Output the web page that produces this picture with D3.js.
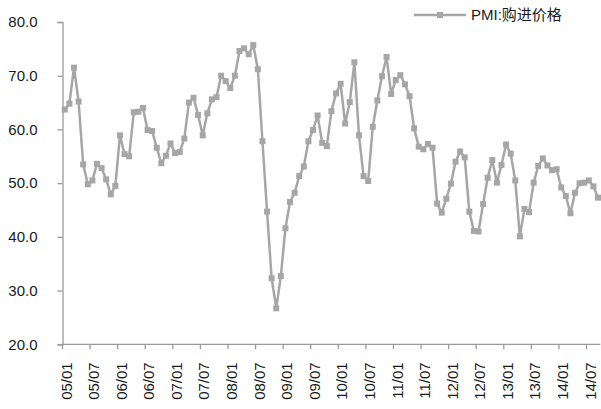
<!DOCTYPE html>
<html>
<head>
<meta charset="utf-8">
<script src="https://cdn.jsdelivr.net/npm/d3@7"></script>
<style>
  body { margin: 0; background: #fff; }
  text { font-family: "Liberation Sans", "Noto Sans CJK SC", sans-serif; fill: #1a1a1a; }
</style>
</head>
<body>
<svg id="chart"></svg>
<script>
// PMI purchase price index, monthly, by year
var years = ["05", "06", "07", "08", "09", "10", "11", "12", "13", "14"];
var v2005 = [63.7, 64.8, 71.5, 65.2, 53.5, 49.8, 50.5, 53.6, 52.8, 50.7, 47.9, 49.5];
var v2006 = [58.9, 55.4, 55.0, 63.2, 63.3, 64.0, 59.9, 59.7, 56.6, 53.7, 55.1, 57.4];
var v2007 = [55.6, 55.8, 58.3, 65.0, 65.9, 62.7, 58.9, 63.0, 65.6, 66.0, 70.0, 69.0];
var v2008 = [67.7, 70.0, 74.6, 75.1, 74.0, 75.7, 71.2, 57.8, 44.7, 32.3, 26.7, 32.7];
var v2009 = [41.6, 46.5, 48.2, 51.3, 53.1, 57.8, 59.9, 62.6, 57.5, 56.9, 63.4, 66.7];
var v2010 = [68.5, 61.1, 65.1, 72.5, 58.9, 51.3, 50.4, 60.5, 65.4, 69.9, 73.5, 66.6];
var v2011 = [69.2, 70.1, 68.4, 66.2, 60.2, 56.8, 56.3, 57.3, 56.6, 46.2, 44.5, 47.1];
var v2012 = [49.9, 54.0, 55.9, 54.8, 44.7, 41.1, 41.0, 46.1, 51.0, 54.3, 50.1, 53.4];
var v2013 = [57.2, 55.5, 50.5, 40.1, 45.2, 44.6, 50.1, 53.2, 54.6, 53.3, 52.4, 52.6];
var v2014 = [49.2, 47.6, 44.4, 48.2, 50.0, 50.1, 50.5, 49.4, 47.3];
var byYear = [v2005, v2006, v2007, v2008, v2009, v2010, v2011, v2012, v2013, v2014];

var tickLabels = ["05/01", "05/07", "06/01", "06/07", "07/01", "07/07", "08/01", "08/07",
  "09/01", "09/07", "10/01", "10/07", "11/01", "11/07", "12/01", "12/07",
  "13/01", "13/07", "14/01", "14/07"];
var yTicks = [20, 30, 40, 50, 60, 70, 80];
var seriesName = "PMI:购进价格";

var width = 601, height = 409;
var mLeft = 62.5, mRight = 600.3, mTop = 22, mBottom = 344.3;

// flatten to one row per month
var data = [];
byYear.forEach(function(vals, yi) {
  vals.forEach(function(v, m) {
    var mm = (m + 1 < 10 ? "0" : "") + (m + 1);
    data.push({ label: years[yi] + "/" + mm, value: v });
  });
});

var svg = d3.select("#chart").attr("width", width).attr("height", height);

var x = d3.scaleBand().domain(data.map(function(d) { return d.label; }))
  .range([mLeft, mRight]).padding(0);
var y = d3.scaleLinear().domain([20, 80]).range([mBottom, mTop]);

var axisColor = "#9a9a9a";
var lineColor = "#a6a6a6";

// y axis
var yAxis = svg.append("g").attr("transform", "translate(" + mLeft + ",0)")
  .call(d3.axisLeft(y).tickValues(yTicks).tickSize(5).tickPadding(20)
    .tickFormat(function(d) { return d3.format(".1f")(d); }));
yAxis.select(".domain").attr("stroke", axisColor).attr("stroke-width", 1.3);
yAxis.selectAll(".tick line").attr("stroke", axisColor).attr("stroke-width", 1.3);
yAxis.selectAll("text").attr("font-size", 15).attr("fill", "#1a1a1a")
  .style("font-family", "'Liberation Sans', sans-serif");

// x axis: ticks at start of each half-year category
var xg = svg.append("g");
xg.append("line").attr("x1", mLeft).attr("x2", mRight)
  .attr("y1", mBottom).attr("y2", mBottom)
  .attr("stroke", axisColor).attr("stroke-width", 1.3);
var tickData = data.filter(function(d) { return tickLabels.indexOf(d.label) !== -1; });
xg.selectAll(".xt").data(tickData).enter().append("line")
  .attr("x1", function(d) { return x(d.label); })
  .attr("x2", function(d) { return x(d.label); })
  .attr("y1", mBottom).attr("y2", mBottom + 5)
  .attr("stroke", axisColor).attr("stroke-width", 1.3);
xg.selectAll(".xl").data(tickData).enter().append("text")
  .attr("transform", function(d) {
    return "translate(" + (x(d.label) + x.bandwidth() / 2 + 1.5) + "," + (mBottom + 18) + ") rotate(-90)";
  })
  .attr("text-anchor", "end").attr("dy", "0.35em")
  .attr("font-size", 15)
  .text(function(d) { return d.label; });

// series line and markers
var cx = function(d) { return x(d.label) + x.bandwidth() / 2; };
var line = d3.line().x(cx).y(function(d) { return y(d.value); });
svg.append("path").datum(data).attr("d", line)
  .attr("fill", "none").attr("stroke", lineColor).attr("stroke-width", 2.5)
  .attr("stroke-linejoin", "round");
svg.selectAll(".pt").data(data).enter().append("rect")
  .attr("x", function(d) { return cx(d) - 3; })
  .attr("y", function(d) { return y(d.value) - 3; })
  .attr("width", 6).attr("height", 6)
  .attr("fill", lineColor);

// legend
var lg = svg.append("g").attr("transform", "translate(414,15)");
lg.append("line").attr("x1", 0).attr("x2", 52).attr("y1", 0).attr("y2", 0)
  .attr("stroke", lineColor).attr("stroke-width", 2.5);
lg.append("rect").attr("x", 23).attr("y", -3).attr("width", 6).attr("height", 6).attr("fill", lineColor);
lg.append("text").attr("x", 57).attr("y", 0).attr("dy", "0.35em")
  .attr("font-size", 15).text(seriesName);
</script>
</body>
</html>
